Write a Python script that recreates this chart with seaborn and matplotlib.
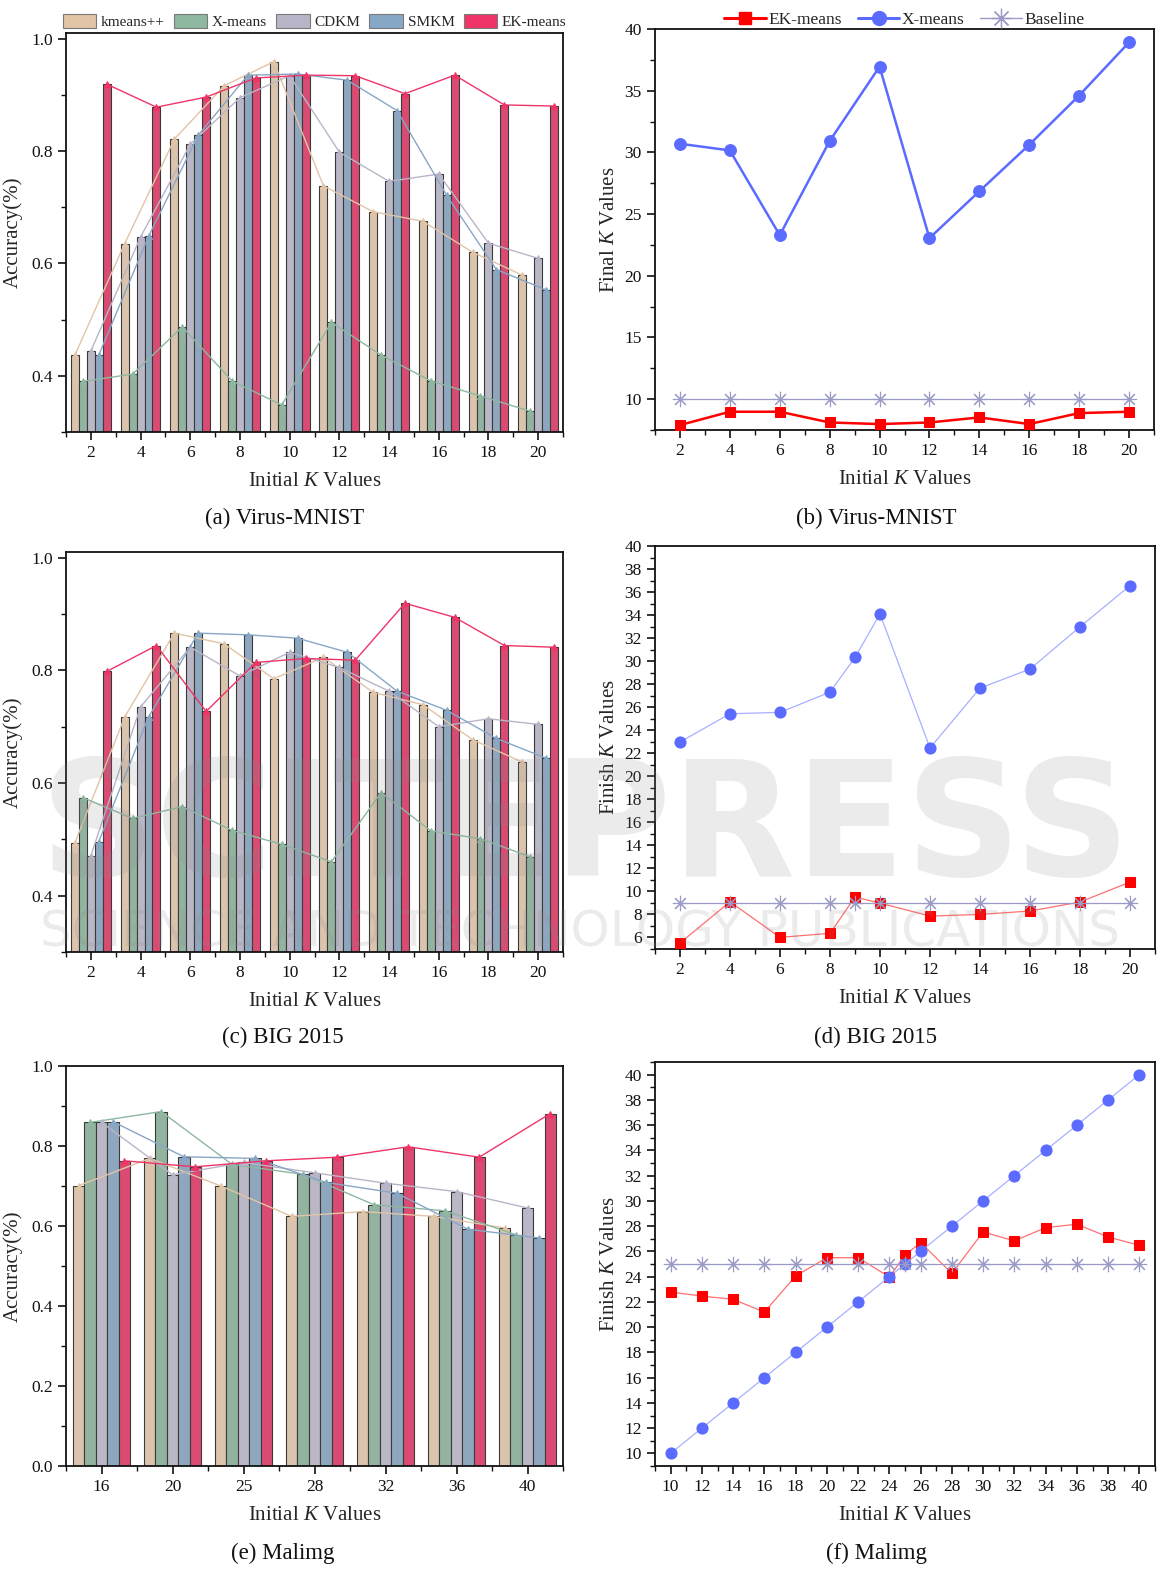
import numpy as np
import pandas as pd
import matplotlib
matplotlib.use("Agg")
import matplotlib.pyplot as plt
import seaborn as sns
from matplotlib.patches import Patch
from matplotlib.lines import Line2D
from matplotlib.ticker import MultipleLocator, FixedLocator

# ---------------- data ----------------
methods = ["kmeans++", "X-means", "CDKM", "SMKM", "EK-means"]
bar_colors = ["#E2C4A6", "#8EB8A0", "#B9B5C8", "#87A7C6", "#F03468"]

# Virus-MNIST accuracy
virus_k = [2, 4, 6, 8, 10, 12, 14, 16, 18, 20]
virus_kmeanspp = [0.437, 0.635, 0.821, 0.916, 0.959, 0.738, 0.692, 0.675, 0.620, 0.579]
virus_xmeans = [0.390, 0.403, 0.487, 0.391, 0.348, 0.495, 0.437, 0.391, 0.364, 0.337]
virus_cdkm = [0.444, 0.647, 0.812, 0.895, 0.934, 0.798, 0.746, 0.759, 0.636, 0.609]
virus_smkm = [0.437, 0.648, 0.828, 0.935, 0.937, 0.926, 0.872, 0.721, 0.589, 0.553]
virus_ek = [0.919, 0.878, 0.896, 0.930, 0.935, 0.934, 0.902, 0.935, 0.882, 0.880]

# BIG 2015 accuracy
big_k = [2, 4, 6, 8, 10, 12, 14, 16, 18, 20]
big_kmeanspp = [0.494, 0.717, 0.866, 0.847, 0.785, 0.823, 0.761, 0.739, 0.677, 0.637]
big_xmeans = [0.574, 0.537, 0.558, 0.516, 0.491, 0.460, 0.583, 0.515, 0.501, 0.469]
big_cdkm = [0.471, 0.735, 0.841, 0.790, 0.832, 0.805, 0.763, 0.700, 0.714, 0.704]
big_smkm = [0.496, 0.717, 0.866, 0.863, 0.857, 0.832, 0.763, 0.729, 0.679, 0.644]
big_ek = [0.798, 0.844, 0.727, 0.814, 0.821, 0.818, 0.919, 0.894, 0.844, 0.841]

# Malimg accuracy
mal_k = [16, 20, 25, 28, 32, 36, 40]
mal_kmeanspp = [0.701, 0.769, 0.700, 0.624, 0.636, 0.624, 0.595]
mal_xmeans = [0.859, 0.886, 0.754, 0.729, 0.653, 0.638, 0.578]
mal_cdkm = [0.859, 0.728, 0.759, 0.733, 0.707, 0.686, 0.645]
mal_smkm = [0.861, 0.773, 0.769, 0.709, 0.682, 0.592, 0.570]
mal_ek = [0.763, 0.748, 0.763, 0.772, 0.798, 0.772, 0.881]

# Final K values, Virus-MNIST
fk_virus_k = [2, 4, 6, 8, 10, 12, 14, 16, 18, 20]
fk_virus_ek = [7.90, 8.98, 8.98, 8.11, 7.98, 8.11, 8.52, 7.98, 8.87, 8.98]
fk_virus_xm = [30.70, 30.16, 23.29, 30.92, 36.95, 23.05, 26.85, 30.62, 34.61, 38.92]
fk_virus_base = [10] * 10

# Finish K values, BIG 2015
fk_big_k = [2, 4, 6, 8, 9, 10, 12, 14, 16, 18, 20]
fk_big_ek = [5.52, 9.10, 6.01, 6.36, 9.51, 8.99, 7.86, 8.00, 8.30, 9.08, 10.81]
fk_big_xm = [22.98, 25.43, 25.55, 27.31, 30.32, 34.10, 22.46, 27.66, 29.31, 32.98, 36.56]
fk_big_base = [9] * 11

# Finish K values, Malimg
fk_mal_k = [10, 12, 14, 16, 18, 20, 22, 24, 25, 26, 28, 30, 32, 34, 36, 38, 40]
fk_mal_ek = [22.78, 22.46, 22.20, 21.19, 24.05, 25.50, 25.50, 23.97, 25.71, 26.69,
             24.26, 27.54, 26.83, 27.88, 28.15, 27.14, 26.48]
fk_mal_xm = [10, 12, 14, 16, 18, 20, 22, 24, 25, 26, 28, 30, 32, 34, 36, 38, 40]
fk_mal_base = [25] * 17

# ---------------- style ----------------
sns.set_theme(style="ticks")
plt.rcParams["font.family"] = ["Liberation Serif", "DejaVu Serif"]
plt.rcParams["mathtext.fontset"] = "custom"
plt.rcParams["mathtext.rm"] = "Liberation Serif"
plt.rcParams["mathtext.it"] = "Liberation Serif:italic"
plt.rcParams["axes.linewidth"] = 1.3
plt.rcParams["axes.edgecolor"] = "#111111"

W, H = 1158, 1571
fig = plt.figure(figsize=(W / 100, H / 100), dpi=100)

BASE_COLOR = "#9A9AC6"
ASTERISK = (8, 2, 0)


def axes_px(left, top, right, bottom):
    return fig.add_axes([left / W, 1 - bottom / H, (right - left) / W, (bottom - top) / H])


def style_ticks(ax):
    ax.tick_params(which="both", direction="out", colors="#111111", labelcolor="#111111",
                   top=False, right=False)
    ax.tick_params(which="major", length=6, width=1.2, labelsize=12.5)
    ax.tick_params(which="minor", length=3.5, width=1.0)
    for s in ax.spines.values():
        s.set_visible(True)
        s.set_linewidth(1.3)


def bar_panel(ax, ks, series, ylim, ymajor, ymin):
    rows = []
    for m, vals in zip(methods, series):
        for k, v in zip(ks, vals):
            rows.append({"K": str(k), "acc": v, "method": m})
    df = pd.DataFrame(rows)
    order = [str(k) for k in ks]
    sns.barplot(data=df, x="K", y="acc", hue="method", order=order, hue_order=methods,
                palette=bar_colors, width=0.8, gap=0, edgecolor="#3a3a3a", linewidth=0.8,
                errorbar=None, legend=False, ax=ax, zorder=1)
    sns.pointplot(data=df, x="K", y="acc", hue="method", order=order, hue_order=methods,
                  palette=bar_colors, dodge=0.64, markers="^", markersize=4.5,
                  linewidth=1.0, errorbar=None, legend=False, ax=ax)
    n = len(ks)
    ax.set_xlim(-0.5, n - 0.5)
    ax.set_ylim(*ylim)
    ax.yaxis.set_major_locator(FixedLocator(ymajor))
    ax.yaxis.set_minor_locator(MultipleLocator(ymin))
    ax.xaxis.set_minor_locator(FixedLocator(np.arange(-0.5, n, 1.0)))
    ax.set_yticklabels([f"{t:.1f}" for t in ymajor])
    ax.set_xlabel("Initial $K$ Values", fontsize=15, labelpad=8)
    ax.set_ylabel("Accuracy(%)", fontsize=15, labelpad=6)
    style_ticks(ax)


def line_panel(ax, ks, ek, xm, base, thick, ylabel):
    if thick:
        sns.lineplot(x=ks, y=ek, ax=ax, color="#FF0000", linewidth=1.8, marker="s",
                     markersize=7.5, markeredgecolor="#FF0000", label="EK-means", zorder=3)
        sns.lineplot(x=ks, y=xm, ax=ax, color="#5B6BFF", linewidth=1.8, marker="o",
                     markersize=8.5, markeredgecolor="#5B6BFF", label="X-means", zorder=3)
    else:
        sns.lineplot(x=ks, y=ek, ax=ax, color="#FF7070", linewidth=0.9, marker="s",
                     markersize=7, markerfacecolor="#FF0000", markeredgecolor="#FF0000",
                     label="EK-means", zorder=3)
        sns.lineplot(x=ks, y=xm, ax=ax, color="#A8B0FF", linewidth=0.9, marker="o",
                     markersize=8, markerfacecolor="#5B6BFF", markeredgecolor="#5B6BFF",
                     label="X-means", zorder=3)
    sns.lineplot(x=ks, y=base, ax=ax, color=BASE_COLOR, linewidth=0.9, marker=ASTERISK,
                 markersize=11, markeredgewidth=0.8, markeredgecolor=BASE_COLOR,
                 markerfacecolor=BASE_COLOR, label="Baseline", zorder=4)
    ax.set_xlabel("Initial $K$ Values", fontsize=15, labelpad=8)
    ax.set_ylabel(ylabel, fontsize=15, labelpad=4)
    style_ticks(ax)


# ---------------- bar panels ----------------
ax_a = axes_px(66, 33, 563, 432)
bar_panel(ax_a, virus_k, [virus_kmeanspp, virus_xmeans, virus_cdkm, virus_smkm, virus_ek],
          (0.3, 1.01), [0.4, 0.6, 0.8, 1.0], 0.1)
handles = [Patch(facecolor=c, edgecolor="#7a7a7a", linewidth=0.8) for c in bar_colors]
ax_a.legend(handles, methods, loc="lower center", bbox_to_anchor=(0.5, 1.0), ncol=5,
            frameon=False, fontsize=11, handlelength=2.2, handleheight=1.0,
            handletextpad=0.3, columnspacing=0.6, borderaxespad=0.15, borderpad=0.1)

ax_c = axes_px(66, 552, 563, 952)
bar_panel(ax_c, big_k, [big_kmeanspp, big_xmeans, big_cdkm, big_smkm, big_ek],
          (0.3, 1.01), [0.4, 0.6, 0.8, 1.0], 0.1)

ax_e = axes_px(66, 1066, 563, 1466)
bar_panel(ax_e, mal_k, [mal_kmeanspp, mal_xmeans, mal_cdkm, mal_smkm, mal_ek],
          (0.0, 1.0), [0.0, 0.2, 0.4, 0.6, 0.8, 1.0], 0.1)

# ---------------- line panels ----------------
ax_b = axes_px(655, 29, 1154, 430)
line_panel(ax_b, fk_virus_k, fk_virus_ek, fk_virus_xm, fk_virus_base, True, "Final $K$ Values")
ax_b.set_xlim(1, 21)
ax_b.set_ylim(7.5, 40)
ax_b.set_xticks(range(2, 21, 2))
ax_b.xaxis.set_minor_locator(MultipleLocator(1))
ax_b.yaxis.set_major_locator(FixedLocator([10, 15, 20, 25, 30, 35, 40]))
ax_b.yaxis.set_minor_locator(MultipleLocator(2.5))
leg_lines = [
    Line2D([], [], color="#FF0000", lw=2.2, marker="s", ms=9),
    Line2D([], [], color="#5B6BFF", lw=2.2, marker="o", ms=10),
    Line2D([], [], color=BASE_COLOR, lw=1.0, marker=ASTERISK, ms=14, mew=0.9),
]
ax_b.legend(leg_lines, ["EK-means", "X-means", "Baseline"], loc="lower center",
            bbox_to_anchor=(0.5, 1.0), ncol=3, frameon=False, fontsize=12.5,
            handlelength=2.4, handletextpad=0.15, columnspacing=0.9,
            borderaxespad=0.0, borderpad=0.05)

ax_d = axes_px(655, 546, 1155, 949)
line_panel(ax_d, fk_big_k, fk_big_ek, fk_big_xm, fk_big_base, False, "Finish $K$ Values")
ax_d.set_xlim(1, 21)
ax_d.set_ylim(5, 40)
ax_d.set_xticks(range(2, 21, 2))
ax_d.xaxis.set_minor_locator(MultipleLocator(1))
ax_d.set_yticks(range(6, 41, 2))
ax_d.yaxis.set_minor_locator(MultipleLocator(1))
ax_d.get_legend().remove()

ax_f = axes_px(655, 1062, 1155, 1466)
line_panel(ax_f, fk_mal_k, fk_mal_ek, fk_mal_xm, fk_mal_base, False, "Finish $K$ Values")
ax_f.set_xlim(9, 41)
ax_f.set_ylim(9, 41)
ax_f.set_xticks(range(10, 41, 2))
ax_f.xaxis.set_minor_locator(MultipleLocator(1))
ax_f.set_yticks(range(10, 41, 2))
ax_f.yaxis.set_minor_locator(MultipleLocator(1))
ax_f.get_legend().remove()

# ---------------- captions ----------------
captions = [("(a) Virus-MNIST", 285, 518), ("(b) Virus-MNIST", 876, 518),
            ("(c) BIG 2015", 283, 1037), ("(d) BIG 2015", 876, 1037),
            ("(e) Malimg", 283, 1553), ("(f) Malimg", 876, 1553)]
for txt, x, y in captions:
    fig.text(x / W, 1 - y / H, txt, ha="center", va="center", fontsize=16.5, color="#111111")

# publisher watermark
fig.text(585 / W, 1 - 832 / H, "SCITEPRESS", ha="center", va="center", fontsize=116,
         fontweight="bold", family="DejaVu Sans", color="#8a8a8a", alpha=0.17, zorder=10)
fig.text(580 / W, 1 - 933 / H, "SCIENCE AND TECHNOLOGY PUBLICATIONS", ha="center",
         va="center", fontsize=36, family="DejaVu Sans", color="#8a8a8a", alpha=0.17, zorder=10)

fig.savefig("out.png", dpi=100, facecolor="white")
